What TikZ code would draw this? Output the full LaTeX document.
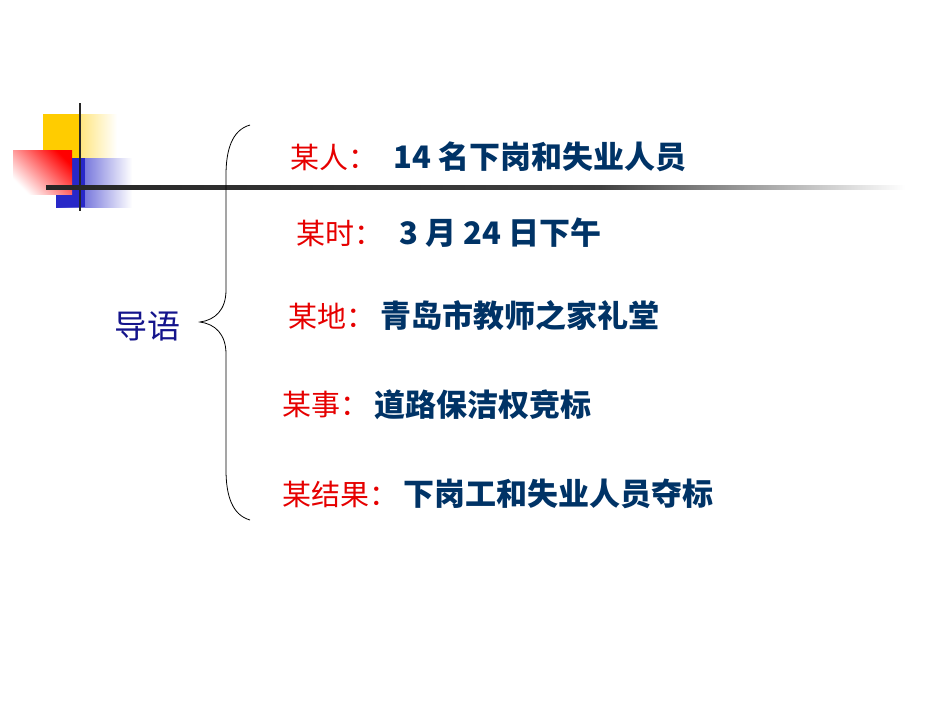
\documentclass[tikz,border=0pt]{standalone}
\usepackage{fontspec}
\newfontfamily\cjk{Noto Sans CJK SC}
\definecolor{lbl}{RGB}{230,0,0}
\definecolor{txt}{RGB}{0,51,102}
\definecolor{navy}{RGB}{20,20,140}
\definecolor{yel}{RGB}{255,204,0}
\definecolor{blu}{RGB}{40,40,200}
\begin{document}
\begin{tikzpicture}[x=1pt,y=-1pt,
  lab/.style={anchor=west,inner sep=0pt,font=\cjk\fontsize{29}{29}\selectfont},
  red/.style={text=lbl},blue/.style={text=txt,anchor=west,inner sep=0pt,font=\cjk\bfseries\fontsize{31}{31}\selectfont}]
\useasboundingbox (0,0) rectangle (950,713);
\fill[white] (0,0) rectangle (950,713);
\shade[left color=yel,right color=white] (43,114) rectangle (117,158);
\fill[yel] (43,114) rectangle (80,158);
\shade[left color=blu,right color=white] (56,158) rectangle (132,207);
\fill[blu] (56,158) rectangle (85,207);
\shade[left color=white,right color=red,shading angle=135] (13,150) rectangle (72,194);
\draw[line width=2.5pt,black!85] (80,103) -- (80,211);
\shade[left color=black!85,right color=black!75] (46,185) rectangle (600,189);
\shade[left color=black!75,right color=white] (600,185) rectangle (905,189);
\coordinate (bt) at (250,125);
\coordinate (bb) at (250,520);
\coordinate (tip) at (200,322);
\draw[line width=0.8pt] (bt) .. controls (232,130) and (226,150) .. (226,175) -- (226,290) .. controls (226,310) and (215,320) .. (tip) .. controls (215,324) and (226,334) .. (226,354) -- (226,470) .. controls (226,495) and (232,515) .. (bb);
\node[lab,text=navy,font=\cjk\fontsize{33}{33}\selectfont] (dy) at (114,326) {导语};
\node[lab,red] (l1) at (290,157) {某人：};
\node[blue] (t1) at ([xshift=16pt]l1.east) {14 名下岗和失业人员};
\node[lab,red] (l2) at (296,233) {某时：};
\node[blue] (t2) at ([xshift=16pt]l2.east) {3 月 24 日下午};
\node[lab,red] (l3) at (288,316) {某地：};
\node[blue] (t3) at ([xshift=5pt]l3.east) {青岛市教师之家礼堂};
\node[lab,red] (l4) at (282,405) {某事：};
\node[blue] (t4) at ([xshift=5pt]l4.east) {道路保洁权竞标};
\node[lab,red] (l5) at (282,494) {某结果：};
\node[blue] (t5) at ([xshift=5pt]l5.east) {下岗工和失业人员夺标};
\end{tikzpicture}
\end{document}
